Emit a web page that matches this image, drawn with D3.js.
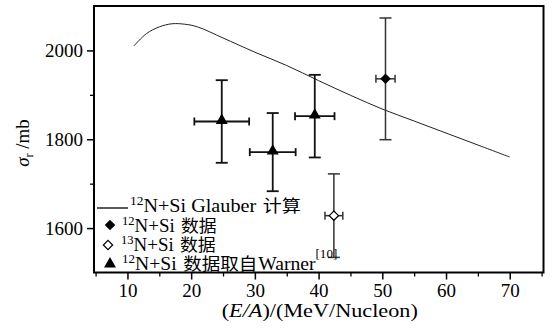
<!DOCTYPE html>
<html>
<head>
<meta charset="utf-8">
<script src="https://cdn.jsdelivr.net/npm/d3@7"></script>
<style>
  body { margin: 0; background: #fff; }
  svg { display: block; }
</style>
</head>
<body>
<div id="chart"></div>
<script>
// Glauber calculation curve
const curveE = [11, 13, 15, 17, 19, 21, 25, 30, 35, 40, 45, 50, 55, 60, 65, 70];
const curveSigma = [2010, 2038, 2053, 2060, 2059, 2053, 2028, 1996, 1966, 1932, 1899, 1868, 1841, 1814, 1787, 1760];

// 12N+Si data (this work)
const n12E = [50.5];
const n12Sigma = [1936];
const n12SigmaErr = [137];
const n12EErr = [1.5];

// 13N+Si data
const n13E = [42.4];
const n13Sigma = [1628];
const n13SigmaErr = [94];
const n13EErr = [1.4];

// 12N+Si data from Warner
const warnerE = [24.8, 32.8, 39.4];
const warnerSigma = [1840, 1771, 1852];
const warnerSigmaErr = [93, 88, 93];
const warnerEErr = [4.3, 3.6, 3.1];

const xTicks = [10, 20, 30, 40, 50, 60, 70];
const yTicks = [1600, 1800, 2000];

const W = 553, H = 329;
const L = 94, R = 543.5, T = 6, B = 272.5;
const serif = '"Liberation Serif", "DejaVu Serif", serif';
const cjk = '"Noto Sans CJK SC", sans-serif';

const svg = d3.select("#chart").append("svg")
  .attr("width", W).attr("height", H);

const x = d3.scaleLinear().domain([4.75, 75.3]).range([L, R]);
const y = d3.scaleLinear().domain([1500, 2100]).range([B, T]);

// minor ticks
const xMinor = d3.range(5, 76, 5).filter(v => !xTicks.includes(v));
const yMinor = [1700, 1900];

svg.append("g")
  .attr("transform", `translate(0,${B})`)
  .call(d3.axisBottom(x).tickValues(xMinor).tickSize(4).tickFormat(""))
  .call(g => g.select(".domain").remove())
  .selectAll("line").attr("stroke-width", 1.3);
svg.append("g")
  .attr("transform", `translate(${L},0)`)
  .call(d3.axisLeft(y).tickValues(yMinor).tickSize(4).tickFormat(""))
  .call(g => g.select(".domain").remove())
  .selectAll("line").attr("stroke-width", 1.3);

const xAxis = svg.append("g")
  .attr("transform", `translate(0,${B})`)
  .call(d3.axisBottom(x).tickValues(xTicks).tickSize(7).tickPadding(4).tickFormat(d3.format("d")));
xAxis.select(".domain").remove();
xAxis.selectAll("line").attr("stroke-width", 1.5);
xAxis.selectAll("text").attr("font-family", serif).attr("font-size", 19).attr("fill", "#000");

const yAxis = svg.append("g")
  .attr("transform", `translate(${L},0)`)
  .call(d3.axisLeft(y).tickValues(yTicks).tickSize(7).tickPadding(4).tickFormat(d3.format("d")));
yAxis.select(".domain").remove();
yAxis.selectAll("line").attr("stroke-width", 1.5);
yAxis.selectAll("text").attr("font-family", serif).attr("font-size", 19).attr("fill", "#000");

// frame
svg.append("rect")
  .attr("x", L).attr("y", T)
  .attr("width", R - L).attr("height", B - T)
  .attr("fill", "none").attr("stroke", "#000").attr("stroke-width", 2);

// Glauber curve
const line = d3.line()
  .x(d => x(d[0])).y(d => y(d[1]))
  .curve(d3.curveCatmullRom);
svg.append("path")
  .datum(curveE.map((e, i) => [e, curveSigma[i]]))
  .attr("d", line)
  .attr("fill", "none").attr("stroke", "#222").attr("stroke-width", 1);

// error bars
function errBars(E, S, SE, EE, sw, color, capV, capH) {
  const g = svg.append("g").attr("stroke", color).attr("stroke-width", sw).attr("fill", "none");
  E.forEach((e, i) => {
    const cx = x(e), cy = y(S[i]);
    const y0 = y(S[i] - SE[i]), y1 = y(S[i] + SE[i]);
    const x0 = x(e - EE[i]), x1 = x(e + EE[i]);
    g.append("line").attr("x1", cx).attr("x2", cx).attr("y1", y0).attr("y2", y1);
    g.append("line").attr("x1", cx - capV).attr("x2", cx + capV).attr("y1", y0).attr("y2", y0);
    g.append("line").attr("x1", cx - capV).attr("x2", cx + capV).attr("y1", y1).attr("y2", y1);
    g.append("line").attr("x1", x0).attr("x2", x1).attr("y1", cy).attr("y2", cy);
    g.append("line").attr("x1", x0).attr("x2", x0).attr("y1", cy - capH).attr("y2", cy + capH);
    g.append("line").attr("x1", x1).attr("x2", x1).attr("y1", cy - capH).attr("y2", cy + capH);
  });
}
errBars(warnerE, warnerSigma, warnerSigmaErr, warnerEErr, 1.8, "#111", 6, 4);
errBars(n12E, n12Sigma, n12SigmaErr, n12EErr, 1.5, "#333", 6, 4);
errBars(n13E, n13Sigma, n13SigmaErr, n13EErr, 1.5, "#333", 6, 4);

const diamond = d3.symbol().type(d3.symbolDiamond2).size(70);
const openDiamond = d3.symbol().type(d3.symbolDiamond2).size(55);
const triangle = d3.symbol().type(d3.symbolTriangle).size(62);

svg.append("g").selectAll("path")
  .data(warnerE.map((e, i) => [e, warnerSigma[i]]))
  .join("path")
  .attr("transform", d => `translate(${x(d[0])},${y(d[1]) - 1})`)
  .attr("d", triangle).attr("fill", "#000");
svg.append("g").selectAll("path")
  .data(n12E.map((e, i) => [e, n12Sigma[i]]))
  .join("path")
  .attr("transform", d => `translate(${x(d[0])},${y(d[1])})`)
  .attr("d", diamond).attr("fill", "#000");
svg.append("g").selectAll("path")
  .data(n13E.map((e, i) => [e, n13Sigma[i]]))
  .join("path")
  .attr("transform", d => `translate(${x(d[0])},${y(d[1])})`)
  .attr("d", openDiamond)
  .attr("fill", "#fff").attr("stroke", "#000").attr("stroke-width", 1.2);

// legend
const leg = svg.append("g");
leg.append("line").attr("x1", 97).attr("x2", 128).attr("y1", 208).attr("y2", 208)
  .attr("stroke", "#000").attr("stroke-width", 1.3);
leg.append("path").attr("transform", "translate(110,225)").attr("d", diamond).attr("fill", "#000");
leg.append("path").attr("transform", "translate(108,245)")
  .attr("d", openDiamond)
  .attr("fill", "#fff").attr("stroke", "#000").attr("stroke-width", 1.2);
leg.append("path").attr("transform", "translate(110,264)").attr("d", triangle).attr("fill", "#000");

const rows = [
  { x: 130, y: 212, sx: 1.12, sup: "12", latin: "N+Si Glauber", cjk: "计算", tail: "" },
  { x: 122, y: 232, sx: 1.05, sup: "12", latin: "N+Si", cjk: "数据", tail: "" },
  { x: 121, y: 251, sx: 1.05, sup: "13", latin: "N+Si", cjk: "数据", tail: "" },
  { x: 122, y: 270, sx: 1.09, sup: "12", latin: "N+Si", cjk: "数据取自", tail: "Warner" }
];
rows.forEach(r => {
  const t = leg.append("text")
    .attr("transform", `translate(${r.x},${r.y}) scale(${r.sx},1)`)
    .attr("font-family", serif).attr("font-size", 18).attr("fill", "#000");
  t.append("tspan").attr("font-size", 12).attr("dy", -7).text(r.sup);
  t.append("tspan").attr("dy", 7).text(r.latin);
  t.append("tspan").attr("dx", 6).attr("font-family", cjk).attr("font-size", 17).text(r.cjk);
  if (r.tail) {
    t.append("tspan").attr("dx", 1).text(r.tail);
    t.append("tspan").attr("font-size", 12).attr("dy", -12).text("[10]");
  }
});

// axis titles
const yt = svg.append("text")
  .attr("transform", "translate(29,143) rotate(-90)")
  .attr("text-anchor", "middle")
  .attr("font-family", serif).attr("font-size", 19).attr("fill", "#000");
yt.append("tspan").attr("font-style", "italic").text("σ");
yt.append("tspan").attr("font-size", 12).attr("dy", 4).text("r");
yt.append("tspan").attr("dy", -4).text(" /mb");

const xt = svg.append("text")
  .attr("transform", `translate(${(L + R) / 2 + 1},317) scale(1.17,1)`)
  .attr("text-anchor", "middle")
  .attr("font-family", serif).attr("font-size", 19).attr("fill", "#000");
xt.append("tspan").text("(");
xt.append("tspan").attr("font-style", "italic").text("E/A");
xt.append("tspan").text(")/(MeV/Nucleon)");
</script>
</body>
</html>
